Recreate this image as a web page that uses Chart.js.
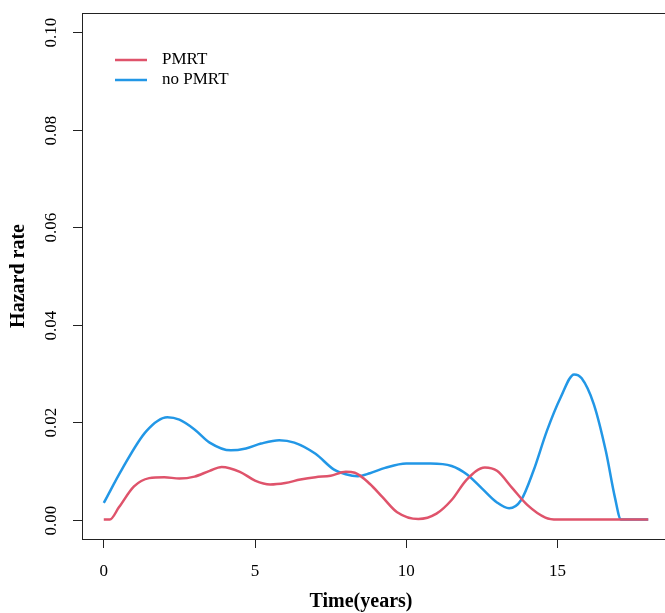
<!DOCTYPE html>
<html>
<head>
<meta charset="utf-8">
<script src="https://cdn.jsdelivr.net/npm/chart.js@4"></script>
<style>
  html, body { margin: 0; padding: 0; background: #fff; overflow: hidden; }
  #wrap { width: 672px; height: 613px; }
</style>
</head>
<body>
<div id="wrap"><canvas id="hazard"></canvas></div>
<script>
// Smoothed hazard estimates by group
const pmrtTime = [0, 0.2, 0.5, 1.0, 1.5, 2.0, 2.5, 3.0, 3.5, 3.9, 4.5, 5.0, 5.5, 6.0, 6.5, 7.0, 7.5, 8.0, 8.3, 8.8, 9.2, 9.7, 10.4, 11.0, 11.5, 12.0, 12.6, 13.0, 13.5, 14.0, 14.6, 15.0, 18.0];
const pmrtHazard = [0, 0, 0.0025, 0.0068, 0.0085, 0.0087, 0.0084, 0.0088, 0.0100, 0.0108, 0.0098, 0.0080, 0.0072, 0.0075, 0.0082, 0.0087, 0.0090, 0.0098, 0.0096, 0.0073, 0.0047, 0.0015, 0.0001, 0.0012, 0.0040, 0.0082, 0.0107, 0.0100, 0.0065, 0.0030, 0.0004, 0, 0];

const noPmrtTime = [0, 0.6, 1.4, 2.1, 2.5, 3.0, 3.5, 4.2, 4.7, 5.2, 5.8, 6.3, 7.0, 7.6, 8.0, 8.4, 8.8, 9.3, 10.0, 10.8, 11.5, 12.0, 12.5, 13.0, 13.4, 13.8, 14.2, 14.65, 15.1, 15.55, 15.8, 16.2, 16.6, 16.9, 17.1, 18.0];
const noPmrtHazard = [0.0034, 0.0103, 0.0181, 0.0210, 0.0205, 0.0185, 0.0158, 0.0142, 0.0146, 0.0156, 0.0163, 0.0158, 0.0135, 0.0103, 0.0093, 0.0089, 0.0095, 0.0106, 0.0115, 0.0115, 0.0110, 0.0093, 0.0064, 0.0035, 0.0023, 0.0040, 0.0099, 0.0182, 0.0250, 0.0298, 0.0290, 0.0237, 0.0140, 0.0045, 0, 0];

const xTicks = [0, 5, 10, 15];
const yTicks = [0, 0.02, 0.04, 0.06, 0.08, 0.10];

const serif = '"Liberation Serif", "DejaVu Serif", serif';

function toPoints(xs, ys) {
  return xs.map((x, i) => ({ x: x, y: ys[i] }));
}

// box, rotated y labels, axis titles and legend in base-graphics style
const basePlot = {
  id: 'basePlot',
  afterDraw(chart) {
    const { ctx, chartArea: a, scales } = chart;
    ctx.save();
    ctx.strokeStyle = '#222';
    ctx.lineWidth = 1;
    ctx.strokeRect(a.left + 0.5, a.top + 0.5, a.right - a.left - 1, a.bottom - a.top);

    // y tick marks and vertical tick labels
    ctx.fillStyle = '#000';
    ctx.font = '17px ' + serif;
    ctx.textAlign = 'center';
    ctx.textBaseline = 'middle';
    yTicks.forEach(v => {
      const py = Math.round(scales.y.getPixelForValue(v)) + 0.5;
      ctx.beginPath();
      ctx.moveTo(a.left - 9, py);
      ctx.lineTo(a.left, py);
      ctx.stroke();
      ctx.save();
      ctx.translate(52, py);
      ctx.rotate(-Math.PI / 2);
      ctx.fillText(v.toFixed(2), 0, 0);
      ctx.restore();
    });

    // axis titles
    ctx.font = 'bold 20px ' + serif;
    ctx.fillText('Time(years)', 361, 602);
    ctx.save();
    ctx.translate(19, (a.top + a.bottom) / 2);
    ctx.rotate(-Math.PI / 2);
    ctx.fillText('Hazard rate', 0, 0);
    ctx.restore();

    // legend
    ctx.font = '17px ' + serif;
    ctx.textAlign = 'left';
    chart.data.datasets.forEach((ds, i) => {
      const ly = 60 + i * 20;
      ctx.strokeStyle = ds.borderColor;
      ctx.lineWidth = 2.5;
      ctx.beginPath();
      ctx.moveTo(115, ly);
      ctx.lineTo(147, ly);
      ctx.stroke();
      ctx.fillStyle = '#000';
      ctx.fillText(ds.label, 162, ly);
    });
    ctx.restore();
  }
};

new Chart(document.getElementById('hazard'), {
  type: 'line',
  data: {
    datasets: [
      {
        label: 'PMRT',
        data: toPoints(pmrtTime, pmrtHazard),
        borderColor: '#DF536B',
        borderWidth: 2.5,
        pointRadius: 0,
        cubicInterpolationMode: 'monotone',
        fill: false
      },
      {
        label: 'no PMRT',
        data: toPoints(noPmrtTime, noPmrtHazard),
        borderColor: '#2297E6',
        borderWidth: 2.5,
        pointRadius: 0,
        cubicInterpolationMode: 'monotone',
        fill: false
      }
    ]
  },
  options: {
    responsive: true,
    maintainAspectRatio: false,
    animation: false,
    layout: { padding: { top: 13, right: 2, left: 0, bottom: 0 } },
    plugins: {
      legend: { display: false },
      tooltip: { enabled: false }
    },
    scales: {
      x: {
        type: 'linear',
        min: -0.72,
        max: 18.72,
        afterBuildTicks: scale => { scale.ticks = xTicks.map(v => ({ value: v })); },
        afterFit: scale => { scale.height = 74; },
        border: { display: false },
        grid: { drawOnChartArea: false, drawTicks: true, tickLength: 9, color: '#222' },
        ticks: {
          color: '#000',
          font: { family: serif, size: 17 },
          padding: 13,
          maxRotation: 0
        }
      },
      y: {
        type: 'linear',
        min: -0.004,
        max: 0.104,
        afterBuildTicks: scale => { scale.ticks = yTicks.map(v => ({ value: v })); },
        afterFit: scale => { scale.width = 82; },
        border: { display: false },
        grid: { display: false },
        ticks: { display: false }
      }
    }
  },
  plugins: [basePlot]
});
</script>
</body>
</html>
